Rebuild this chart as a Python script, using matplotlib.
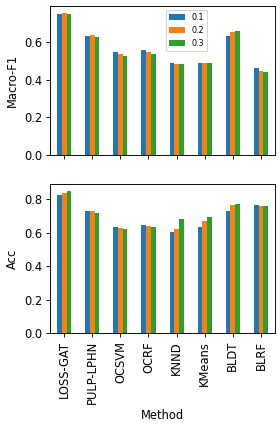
import numpy as np
import matplotlib
matplotlib.use("Agg")
import matplotlib.pyplot as plt

methods = ["LOSS-GAT", "PULP-LPHN", "OCSVM", "OCRF", "KNND", "KMeans", "BLDT", "BLRF"]
ratios = ["0.1", "0.2", "0.3"]

# Macro-F1 per ratio
f1_01 = [0.749, 0.632, 0.547, 0.558, 0.488, 0.488, 0.632, 0.462]
f1_02 = [0.754, 0.637, 0.536, 0.545, 0.483, 0.488, 0.653, 0.446]
f1_03 = [0.749, 0.627, 0.526, 0.536, 0.483, 0.488, 0.658, 0.441]

# Acc per ratio
acc_01 = [0.826, 0.730, 0.635, 0.647, 0.605, 0.635, 0.730, 0.766]
acc_02 = [0.838, 0.730, 0.629, 0.641, 0.623, 0.671, 0.768, 0.760]
acc_03 = [0.850, 0.718, 0.623, 0.635, 0.683, 0.695, 0.772, 0.760]

colors = ["#1f77b4", "#ff7f0e", "#2ca02c"]

DPI = 83
fig = plt.figure(figsize=(280/DPI, 429/DPI), dpi=DPI)
ax1 = fig.add_axes([0.179, 0.639, 0.803, 0.347])
ax2 = fig.add_axes([0.179, 0.224, 0.803, 0.347])

x = np.arange(len(methods))
w = 0.5 / 3


def draw(ax, series):
    for i, (vals, c, lab) in enumerate(zip(series, colors, ratios)):
        ax.bar(x + (i - 1) * w, vals, w, color=c, label=lab)
    ax.set_xlim(-0.5, len(methods) - 0.5)
    ax.set_xticks(x)


draw(ax1, [f1_01, f1_02, f1_03])
draw(ax2, [acc_01, acc_02, acc_03])

ax1.set_xticklabels([])
ax1.set_ylabel("Macro-F1")
ax1.legend(loc="upper left", bbox_to_anchor=(0.515, 0.975), borderaxespad=0, fontsize="x-small")

ax2.set_xticklabels(methods, rotation=90)
ax2.set_ylabel("Acc")
ax2.set_xlabel("Method")

fig.savefig("out.png", dpi=DPI)
